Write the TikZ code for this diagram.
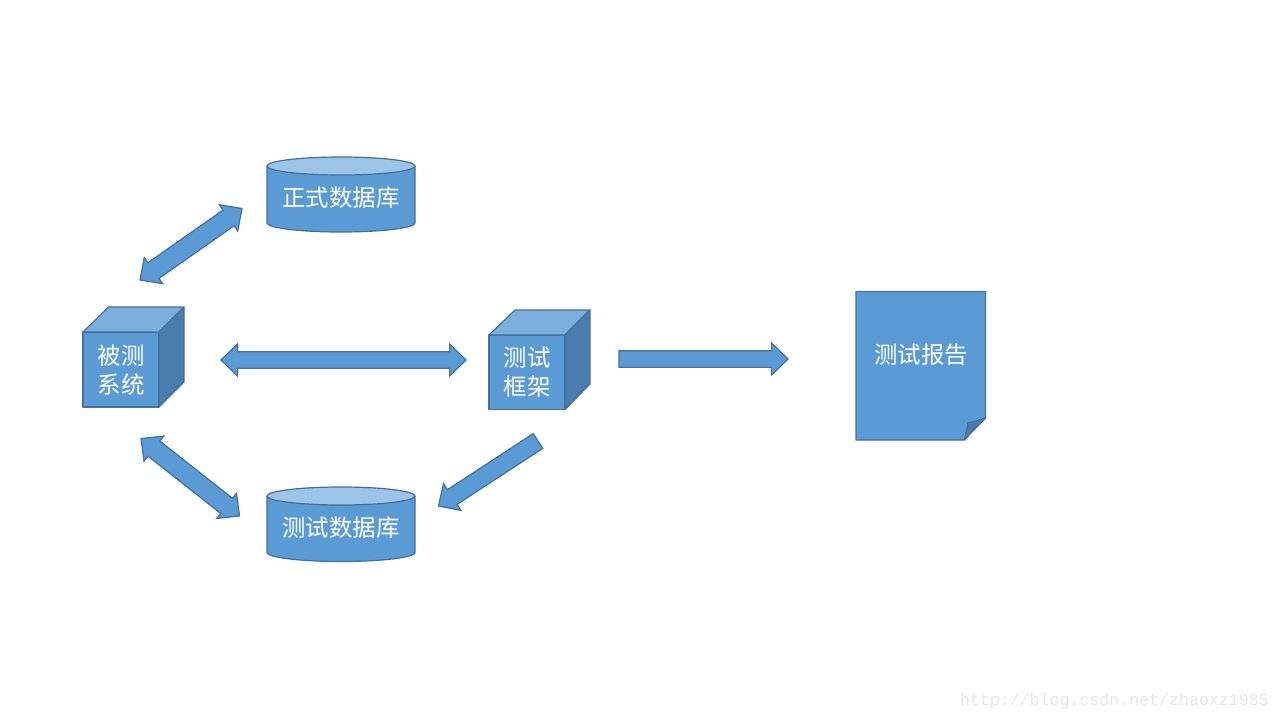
\documentclass[tikz,border=0pt]{standalone}
\usepackage{fontspec}
\usetikzlibrary{calc}
\newfontfamily\cjk{Noto Sans CJK SC}
\setmonofont{Liberation Mono}
\definecolor{bodyblue}{HTML}{5B9BD5}
\definecolor{edgeblue}{HTML}{41719C}
\definecolor{topblue}{HTML}{7CAFDD}
\definecolor{sideblue}{HTML}{497DAC}
\definecolor{capblue}{HTML}{9DC3E6}
\definecolor{markgray}{HTML}{E6E6E6}
\tikzset{
  shapeline/.style={draw=edgeblue,line width=1.2pt,line join=round},
  bodyface/.style={shapeline,fill=bodyblue},
  topface/.style={shapeline,fill=topblue},
  sideface/.style={shapeline,fill=sideblue},
  capface/.style={shapeline,fill=capblue},
  label/.style={text=white,font=\cjk\fontsize{23.4pt}{28pt}\selectfont,align=center,inner sep=0pt},
  blockarrow/.style={bodyface,line join=miter}
}
% #1 half-shaft; half-head 16, head length 16.4
\newcommand{\twowayarrow}[3]{%
  \draw[blockarrow]
    (#2)
    -- ($(#2)!16.4pt!(#3)!16pt!90:(#3)$)
    -- ($(#2)!16.4pt!(#3)!#1!90:(#3)$)
    -- ($(#3)!16.4pt!(#2)!#1!-90:(#2)$)
    -- ($(#3)!16.4pt!(#2)!16pt!-90:(#2)$)
    -- (#3)
    -- ($(#3)!16.4pt!(#2)!16pt!90:(#2)$)
    -- ($(#3)!16.4pt!(#2)!#1!90:(#2)$)
    -- ($(#2)!16.4pt!(#3)!#1!-90:(#3)$)
    -- ($(#2)!16.4pt!(#3)!16pt!-90:(#3)$)
    -- cycle;}
% #1 half-shaft; from tail #2 to tip #3
\newcommand{\onewayarrow}[3]{%
  \draw[blockarrow]
    ($(#2)!#1!90:(#3)$)
    -- ($(#3)!16.4pt!(#2)!#1!-90:(#2)$)
    -- ($(#3)!16.4pt!(#2)!16pt!-90:(#2)$)
    -- (#3)
    -- ($(#3)!16.4pt!(#2)!16pt!90:(#2)$)
    -- ($(#3)!16.4pt!(#2)!#1!90:(#2)$)
    -- ($(#2)!#1!-90:(#3)$)
    -- cycle;}
\begin{document}
\begin{tikzpicture}[x=1pt,y=-1pt]
\useasboundingbox (0,0) rectangle (1280,720);
\fill[white] (0,0) rectangle (1280,720);

% system cube
\draw[bodyface] (83,332) rectangle (159,407);
\draw[topface] (83,332) -- (108.5,307) -- (184,307) -- (159,332) -- cycle;
\draw[sideface] (159,332) -- (184,307) -- (184,382) -- (159,407) -- cycle;
\node[label] (system) at (121,370) {被测\\[1.2pt]系统};

% framework cube
\draw[bodyface] (489,335) rectangle (565,409.5);
\draw[topface] (489,335) -- (515,310) -- (590,310) -- (565,335) -- cycle;
\draw[sideface] (565,335) -- (590,310) -- (590,384) -- (565,409.5) -- cycle;
\node[label] (framework) at (527,372) {测试\\[1.2pt]框架};

% production database
\draw[bodyface] (267,166) -- (267,223) arc[start angle=180,end angle=360,x radius=74,y radius=-9] -- (415,166) -- cycle;
\draw[capface] (341,166) ellipse[x radius=74,y radius=9];
\node[label] (proddb) at (341,198) {正式数据库};

% test database
\draw[bodyface] (267,496) -- (267,552.5) arc[start angle=180,end angle=360,x radius=74,y radius=-9] -- (415,496) -- cycle;
\draw[capface] (341,496) ellipse[x radius=74,y radius=9];
\node[label] (testdb) at (341,528) {测试数据库};

% report page
\draw[bodyface] (856,291.5) -- (985.5,291.5) -- (985.5,418) -- (964,440) -- (856,440) -- cycle;
\draw[sideface] (964,440) .. controls (966,434) and (967,428) .. (968,422.5) .. controls (974,422) and (980,420) .. (985.5,418) -- cycle;
\node[label] (report) at (921,355) {测试报告};

% connector ends
\coordinate (a1s) at (140,280);
\coordinate (a1e) at (242,208.5);
\coordinate (a2s) at (221,360);
\coordinate (a2e) at (466,360);
\coordinate (a3s) at (141,438.5);
\coordinate (a3e) at (239.5,516);
\coordinate (a4s) at (538,441);
\coordinate (a4e) at (438.5,506);
\coordinate (a5s) at (619,359);
\coordinate (a5e) at (788,359);

\twowayarrow{9.6pt}{a1s}{a1e}
\twowayarrow{8.2pt}{a2s}{a2e}
\twowayarrow{9.6pt}{a3s}{a3e}
\onewayarrow{8.8pt}{a4s}{a4e}
\onewayarrow{8.2pt}{a5s}{a5e}

\node[text=markgray,font=\ttfamily\fontsize{16.6pt}{18pt}\selectfont,inner sep=0pt,anchor=east] (mark) at (1269,701) {http://blog.csdn.net/zhaoxz1985};
\end{tikzpicture}
\end{document}
